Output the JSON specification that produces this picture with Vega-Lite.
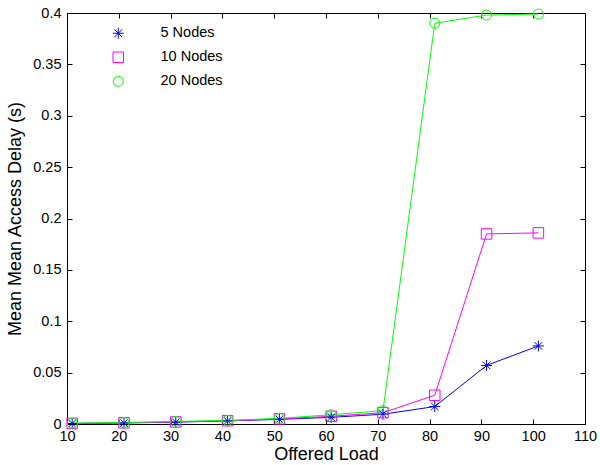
{
  "$schema": "https://vega.github.io/schema/vega-lite/v6.json",
  "width": 518,
  "height": 411,
  "autosize": {"type": "none"},
  "padding": {"left": 67, "top": 13, "right": 15, "bottom": 41},
  "background": "white",
  "config": {
    "view": {"stroke": null},
    "font": "Liberation Sans",
    "axis": {
      "grid": false,
      "domainColor": "black",
      "domainWidth": 1,
      "tickColor": "black",
      "tickSize": -5,
      "labelFlush": false,
      "labelColor": "black",
      "labelFontSize": 14.5,
      "labelFont": "Liberation Sans",
      "titleFont": "Liberation Sans",
      "titleFontSize": 18,
      "titleFontWeight": "normal",
      "titleColor": "black"
    },
    "legend": {
      "labelFont": "Liberation Sans",
      "labelFontSize": 14.5,
      "labelColor": "black",
      "padding": 0
    }
  },
  "data": {
    "values": [
      {"load": 11, "delay": 0.0005, "series": "5 Nodes"},
      {"load": 21, "delay": 0.001, "series": "5 Nodes"},
      {"load": 31, "delay": 0.0018, "series": "5 Nodes"},
      {"load": 41, "delay": 0.003, "series": "5 Nodes"},
      {"load": 51, "delay": 0.0045, "series": "5 Nodes"},
      {"load": 61, "delay": 0.0065, "series": "5 Nodes"},
      {"load": 71, "delay": 0.0095, "series": "5 Nodes"},
      {"load": 81, "delay": 0.017, "series": "5 Nodes"},
      {"load": 91, "delay": 0.057, "series": "5 Nodes"},
      {"load": 101, "delay": 0.076, "series": "5 Nodes"},
      {"load": 11, "delay": 0.0006, "series": "10 Nodes"},
      {"load": 21, "delay": 0.0012, "series": "10 Nodes"},
      {"load": 31, "delay": 0.002, "series": "10 Nodes"},
      {"load": 41, "delay": 0.0032, "series": "10 Nodes"},
      {"load": 51, "delay": 0.005, "series": "10 Nodes"},
      {"load": 61, "delay": 0.0075, "series": "10 Nodes"},
      {"load": 71, "delay": 0.011, "series": "10 Nodes"},
      {"load": 81, "delay": 0.028, "series": "10 Nodes"},
      {"load": 91, "delay": 0.185, "series": "10 Nodes"},
      {"load": 101, "delay": 0.186, "series": "10 Nodes"},
      {"load": 11, "delay": 0.0008, "series": "20 Nodes"},
      {"load": 21, "delay": 0.0015, "series": "20 Nodes"},
      {"load": 31, "delay": 0.0025, "series": "20 Nodes"},
      {"load": 41, "delay": 0.0035, "series": "20 Nodes"},
      {"load": 51, "delay": 0.0055, "series": "20 Nodes"},
      {"load": 61, "delay": 0.009, "series": "20 Nodes"},
      {"load": 71, "delay": 0.013, "series": "20 Nodes"},
      {"load": 81, "delay": 0.39, "series": "20 Nodes"},
      {"load": 91, "delay": 0.398, "series": "20 Nodes"},
      {"load": 101, "delay": 0.399, "series": "20 Nodes"}
    ]
  },
  "layer": [
    {
      "mark": {"type": "line", "strokeWidth": 1},
      "encoding": {
        "x": {
          "field": "load", "type": "quantitative",
          "scale": {"domain": [10, 110], "nice": false},
          "axis": {"orient": "bottom", "values": [10, 20, 30, 40, 50, 60, 70, 80, 90, 100, 110], "title": "Offered Load", "labelPadding": 10, "titlePadding": 3}
        },
        "y": {
          "field": "delay", "type": "quantitative",
          "scale": {"domain": [0, 0.4], "nice": false},
          "axis": {"orient": "left", "values": [0, 0.05, 0.1, 0.15, 0.2, 0.25, 0.3, 0.35, 0.4], "format": ".2~f", "title": "Mean Mean Access Delay (s)", "labelPadding": 11, "titlePadding": 8}
        },
        "color": {
          "field": "series", "type": "nominal",
          "scale": {"domain": ["5 Nodes", "10 Nodes", "20 Nodes"], "range": ["#0000ff", "#ff00ff", "#00ff00"]},
          "legend": {"orient": "none", "legendX": 44, "legendY": 13, "title": null, "symbolStrokeWidth": 1, "labelOffset": 35, "rowPadding": 8}
        }
      }
    },
    {
      "mark": {"type": "point", "filled": false, "strokeWidth": 1, "opacity": 1},
      "encoding": {
        "x": {
          "field": "load", "type": "quantitative",
          "axis": {"orient": "top", "values": [10, 20, 30, 40, 50, 60, 70, 80, 90, 100, 110], "labels": false, "title": null}
        },
        "y": {
          "field": "delay", "type": "quantitative",
          "axis": {"orient": "right", "values": [0, 0.05, 0.1, 0.15, 0.2, 0.25, 0.3, 0.35, 0.4], "labels": false, "title": null}
        },
        "color": {
          "field": "series", "type": "nominal",
          "legend": {"orient": "none", "legendX": 44, "legendY": 13, "title": null, "symbolStrokeWidth": 1, "labelOffset": 35, "rowPadding": 8}
        },
        "shape": {
          "field": "series", "type": "nominal",
          "scale": {"domain": ["5 Nodes", "10 Nodes", "20 Nodes"], "range": ["M-1,0H1M0,-1V1M-0.7,-0.7L0.7,0.7M-0.7,0.7L0.7,-0.7", "square", "circle"]},
          "legend": null
        },
        "size": {
          "field": "series", "type": "nominal",
          "scale": {"domain": ["5 Nodes", "10 Nodes", "20 Nodes"], "range": [121, 100, 113]},
          "legend": null
        }
      }
    }
  ],
  "resolve": {"axis": {"x": "independent", "y": "independent"}}
}
